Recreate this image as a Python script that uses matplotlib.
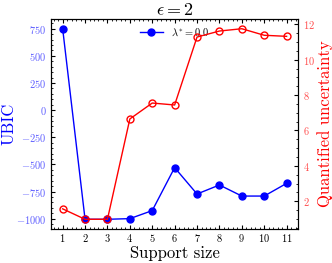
import matplotlib
matplotlib.use("Agg")
import matplotlib.pyplot as plt
from matplotlib.ticker import AutoMinorLocator

plt.rcParams.update({
    "font.family": "serif",
    "font.serif": ["cmr10", "DejaVu Serif"],
    "mathtext.fontset": "cm",
    "axes.formatter.use_mathtext": True,
    "axes.unicode_minus": True,
    "xtick.direction": "in",
    "ytick.direction": "in",
    "xtick.top": True,
    "xtick.minor.visible": True,
    "ytick.minor.visible": True,
    "xtick.major.size": 3,
    "xtick.minor.size": 1.5,
    "ytick.major.size": 3,
    "ytick.minor.size": 1.5,
    "axes.linewidth": 0.8,
})

support = [1, 2, 3, 4, 5, 6, 7, 8, 9, 10, 11]
ubic = [750, -1006, -1006, -1000, -926, -530, -773, -690, -792, -792, -675]
uncertainty = [1.57, 0.98, 0.98, 6.65, 7.55, 7.44, 11.28, 11.62, 11.75, 11.38, 11.32]
legend_label = r"$\lambda^{*} = 0.0$"

fig, ax1 = plt.subplots(figsize=(3.32, 2.63), dpi=100)
fig.subplots_adjust(left=0.155, right=0.897, top=0.927, bottom=0.13)

ax1.plot(support, ubic, color="blue", marker="o", markersize=5, linewidth=1,
         label=legend_label)
ax1.set_xlabel("Support size", fontsize=12, labelpad=1)
ax1.set_ylabel("UBIC", color="blue", fontsize=12, labelpad=0)
ax1.tick_params(axis="y", labelcolor="#6060ff", labelsize=7.5, which="both")
ax1.tick_params(axis="x", labelsize=7.5, pad=2.5)
ax1.set_xticks(support)
ax1.set_yticks([-1000, -750, -500, -250, 0, 250, 500, 750])
ax1.xaxis.set_minor_locator(AutoMinorLocator(5))
ax1.yaxis.set_minor_locator(AutoMinorLocator(5))
ax1.legend(loc="upper center", frameon=False, fontsize=7.5, handlelength=2.2,
           borderaxespad=0.3)
ax1.set_title(r"$\epsilon = 2$", fontsize=13, pad=3)

ax2 = ax1.twinx()
ax2.plot(support, uncertainty, color="red", marker="o", markersize=5,
         markerfacecolor="none", markeredgewidth=1, linewidth=1)
ax2.set_ylabel("Quantified uncertainty", color="red", fontsize=12, labelpad=2)
ax2.tick_params(axis="y", labelcolor="#ff5050", labelsize=7.5, which="both",
                direction="in")
ax2.set_yticks([2, 4, 6, 8, 10, 12])
ax2.yaxis.set_minor_locator(AutoMinorLocator(4))

fig.savefig("out.png", dpi=100)
